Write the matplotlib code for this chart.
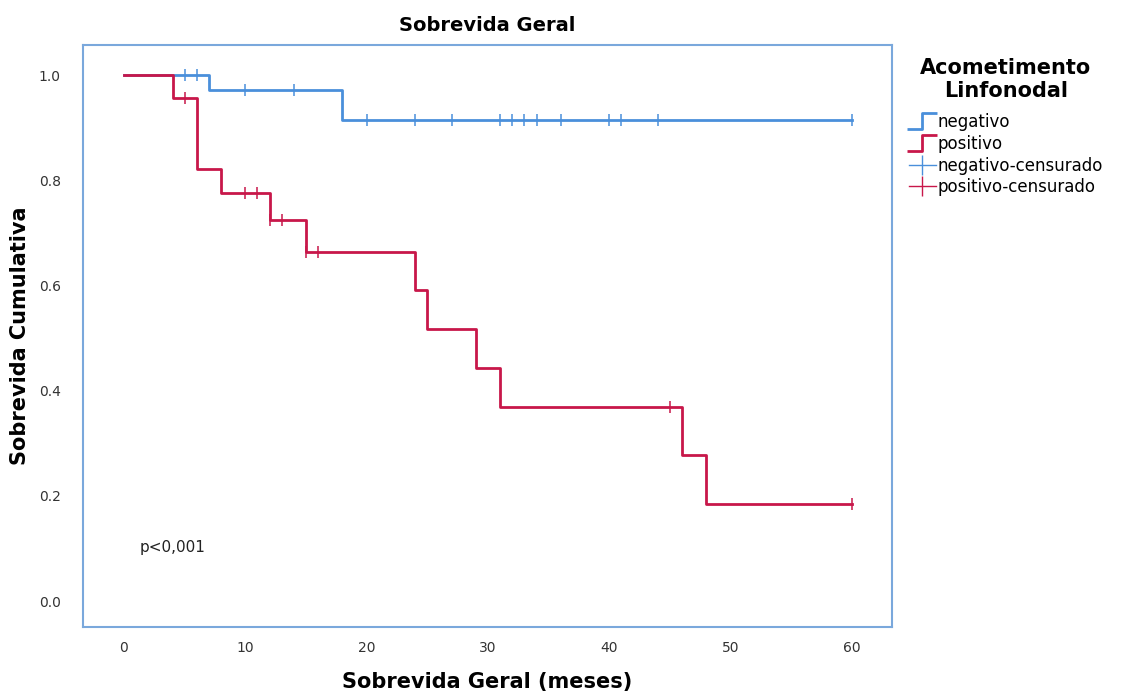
import numpy as np
import matplotlib.pyplot as plt
from matplotlib.lines import Line2D
from matplotlib.path import Path

# Kaplan-Meier steps (event times and survival after each event)
neg_times = [0, 7, 18, 60]
neg_surv = [1.0, 0.972, 0.914, 0.914]
neg_cens = [5, 6, 10, 14, 20, 24, 27, 31, 32, 33, 34, 36, 40, 41, 44, 60]

pos_times = [0, 4, 6, 8, 12, 15, 24, 25, 29, 31, 46, 48, 60]
pos_surv = [1.0, 0.957, 0.821, 0.776, 0.724, 0.664, 0.591, 0.518, 0.444, 0.370, 0.278, 0.185, 0.185]
pos_cens = [5, 10, 11, 12, 13, 15, 16, 45, 60]

xticks = [0, 10, 20, 30, 40, 50, 60]
yticks = [0.0, 0.2, 0.4, 0.6, 0.8, 1.0]

blue = "#4a8fdb"
red = "#c8174a"
frame = "#7aa8dc"


def level_at(times, surv, t):
    i = np.searchsorted(times, t, side="right") - 1
    return np.array(surv)[i]


fig = plt.figure(figsize=(11.23, 6.97), dpi=100)
ax = fig.add_axes([0.0739, 0.1004, 0.7204, 0.835])

ax.step(neg_times, neg_surv, where="post", color=blue, lw=2.0)
ax.step(pos_times, pos_surv, where="post", color=red, lw=2.0)
ax.plot(neg_cens, level_at(neg_times, neg_surv, neg_cens), ls="none",
        marker="|", ms=9, mew=1.1, color=blue)
ax.plot(pos_cens, level_at(pos_times, pos_surv, pos_cens), ls="none",
        marker="|", ms=9, mew=1.1, color=red)

ax.set_xlim(-3.38, 63.3)
ax.set_ylim(-0.049, 1.057)
ax.set_xticks(xticks)
ax.set_yticks(yticks)
ax.set_yticklabels([f"{v:.1f}" for v in yticks])
ax.tick_params(length=0, labelsize=10, colors="#333333", pad=16)
ax.tick_params(axis="x", pad=10)
for s in ax.spines.values():
    s.set_color(frame)
    s.set_linewidth(1.5)

ax.text(1.3, 0.103, "p<0,001", fontsize=11, color="#222222", va="center")

ax.set_title("Sobrevida Geral", fontsize=14, fontweight="bold", pad=10)
ax.set_xlabel("Sobrevida Geral (meses)", fontsize=15, fontweight="bold", labelpad=12)
ax.set_ylabel("Sobrevida Cumulativa", fontsize=15, fontweight="bold", labelpad=6)

# legend with step glyphs
step = Path([(-1, -0.5), (0, -0.5), (0, 0.5), (1, 0.5)],
            [Path.MOVETO, Path.LINETO, Path.LINETO, Path.LINETO])
handles = [
    Line2D([], [], ls="none", marker=step, ms=22, mfc="none", mec=blue, mew=2.0),
    Line2D([], [], ls="none", marker=step, ms=22, mfc="none", mec=red, mew=2.0),
    Line2D([], [], color=blue, lw=1.0, marker="|", ms=14, mew=1.0),
    Line2D([], [], color=red, lw=1.0, marker="|", ms=14, mew=1.0),
]
labels = ["negativo", "positivo", "negativo-censurado", "positivo-censurado"]
leg = fig.legend(handles, labels, loc="upper left", bbox_to_anchor=(0.796, 0.939),
                 frameon=False, fontsize=12, handlelength=1.6, handletextpad=0.1,
                 labelspacing=0.22, title="Acometimento\nLinfonodal",
                 title_fontproperties={"size": 15, "weight": "bold"})
leg.get_title().set_multialignment("center")
leg._legend_box.sep = 9

fig.savefig("out.png", dpi=100)
